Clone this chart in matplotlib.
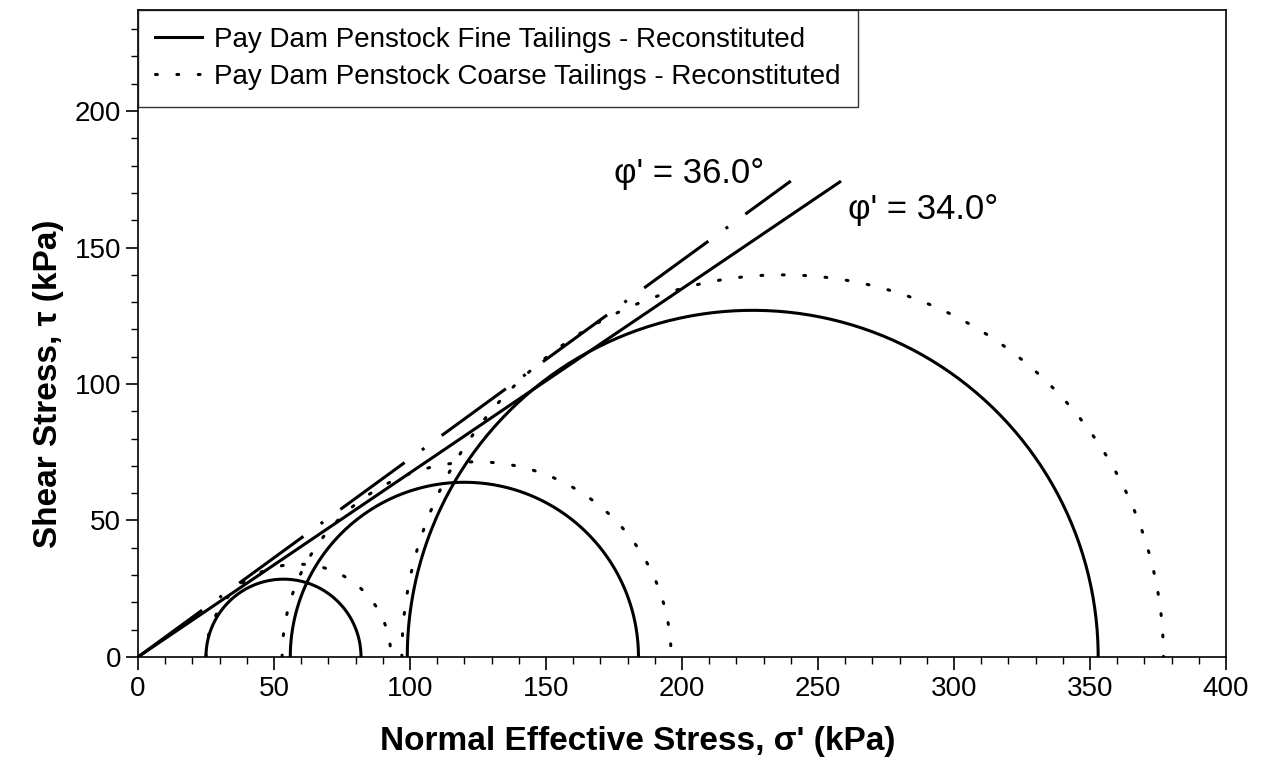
import matplotlib
matplotlib.use("Agg")
import matplotlib.pyplot as plt
from matplotlib.ticker import MultipleLocator, FixedLocator
import numpy as np

plt.rcParams['font.family'] = ['Liberation Sans', 'DejaVu Sans']

# Mohr circles: (sigma3', sigma1') in kPa
fine_s3 = [25, 56, 99]
fine_s1 = [82, 184, 353]
coarse_s3 = [25, 53, 97]
coarse_s1 = [93, 196, 377]

# failure envelopes
phi_fine = 34.0
phi_coarse = 36.0
env_fine_xmax = 258
env_coarse_xmax = 240

fine_label = "Pay Dam Penstock Fine Tailings - Reconstituted"
coarse_label = "Pay Dam Penstock Coarse Tailings - Reconstituted"


def mohr(s3, s1, n=200):
    c = 0.5 * (s1 + s3)
    r = 0.5 * (s1 - s3)
    t = np.linspace(np.pi, 0, n)
    return c + r * np.cos(t), r * np.sin(t)


fig = plt.figure(figsize=(12.68, 7.76), dpi=100)
ax = fig.add_axes([0.1088, 0.1534, 0.8581, 0.8336])

dotted = (0, (0.6, 6.4))
for i, (a, b) in enumerate(zip(fine_s3, fine_s1)):
    x, y = mohr(a, b)
    ax.plot(x, y, color='black', lw=2.2, label=fine_label if i == 0 else None)
for i, (a, b) in enumerate(zip(coarse_s3, coarse_s1)):
    x, y = mohr(a, b)
    ax.plot(x, y, color='black', lw=2.2, linestyle=dotted, dash_capstyle='round',
            label=coarse_label if i == 0 else None)

xf = np.array([0, env_fine_xmax])
ax.plot(xf, xf * np.tan(np.radians(phi_fine)), color='black', lw=2.2)
xc = np.array([0, env_coarse_xmax])
ax.plot(xc, xc * np.tan(np.radians(phi_coarse)), color='black', lw=2.2,
        linestyle=(0, (26, 7, 1, 7)))

ax.text(175, 177, "\u03c6' = %.1f\u00b0" % phi_coarse, fontsize=25, va='center', ha='left')
ax.text(261, 164, "\u03c6' = %.1f\u00b0" % phi_fine, fontsize=25, va='center', ha='left')

ax.set_xlim(0, 400)
ax.set_ylim(0, 237)
ax.xaxis.set_major_locator(MultipleLocator(50))
ax.xaxis.set_minor_locator(MultipleLocator(10))
ax.yaxis.set_major_locator(FixedLocator([0, 50, 100, 150, 200]))
ax.yaxis.set_minor_locator(MultipleLocator(10))
ax.tick_params(which='major', direction='out', length=9, width=1.2, labelsize=20)
ax.tick_params(axis='x', which='major', pad=5)
ax.tick_params(axis='y', which='major', pad=3)
ax.tick_params(which='minor', direction='out', length=5, width=1)
for s in ax.spines.values():
    s.set_linewidth(1.2)

ax.set_xlabel("Normal Effective Stress, \u03c3' (kPa)", fontsize=24, fontweight='bold')
ax.set_ylabel("Shear Stress, \u03c4 (kPa)", fontsize=24, fontweight='bold')
# axis titles sit over the labelled part of each scale
ax.xaxis.set_label_coords(0.459, -0.107)
ax.yaxis.set_label_coords(-0.068, 200 / 237 / 2)

leg = ax.legend(loc='upper left', bbox_to_anchor=(0, 1), borderaxespad=0, fontsize=20,
                frameon=True, fancybox=False, edgecolor='black', handlelength=1.7,
                handletextpad=0.45, borderpad=0.6, labelspacing=0.4)
leg.get_frame().set_linewidth(1.0)

fig.savefig("out.png", dpi=100, facecolor='white')
